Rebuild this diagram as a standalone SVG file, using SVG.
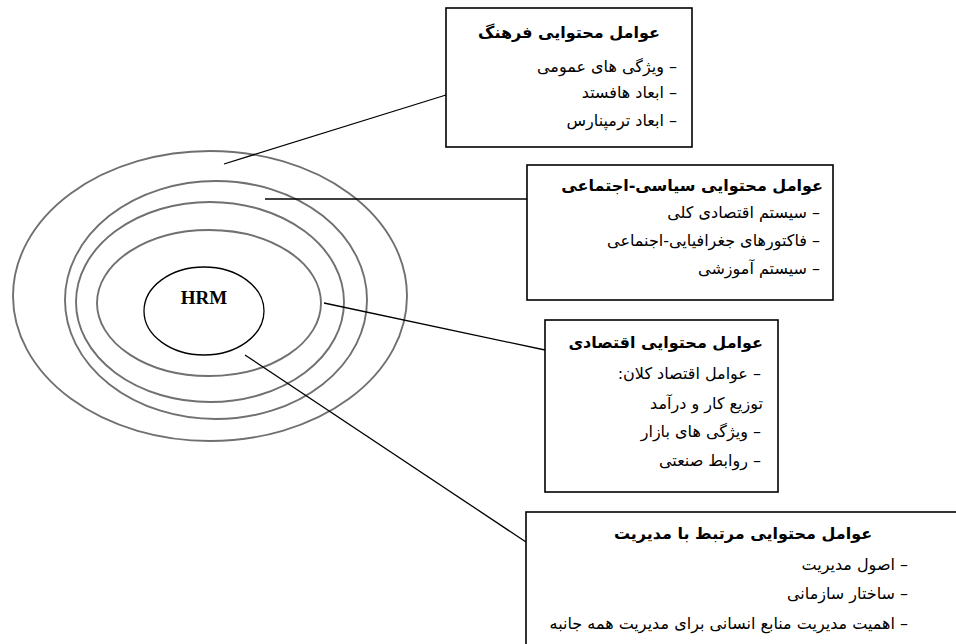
<svg xmlns="http://www.w3.org/2000/svg" width="956" height="644" viewBox="0 0 956 644">
  <style>
    .ring { fill: none; stroke: #707070; stroke-width: 1.9; }
    .core { fill: #ffffff; stroke: #000000; stroke-width: 1.3; }
    .box { fill: #ffffff; stroke: #000000; stroke-width: 1.6; }
    .link { stroke: #000000; stroke-width: 1.3; fill: none; }
    .title { font-family: "DejaVu Sans", sans-serif; font-size: 16px; font-weight: bold; fill: #000; direction: rtl; }
    .item { font-family: "DejaVu Sans", sans-serif; font-size: 16px; fill: #000; direction: rtl; }
    .hrm { font-family: "Liberation Serif", serif; font-size: 19px; font-weight: bold; fill: #000; }
  </style>
  <rect width="956" height="644" fill="#ffffff"/>

  <!-- concentric context rings around HRM -->
  <g id="rings">
    <ellipse class="ring" cx="210" cy="296" rx="197" ry="145"/>
    <ellipse class="ring" cx="216" cy="300" rx="151" ry="119"/>
    <ellipse class="ring" cx="210" cy="302" rx="134" ry="100"/>
    <ellipse class="ring" cx="209" cy="303" rx="112" ry="73"/>
  </g>

  <g id="hrm">
    <ellipse class="core" cx="204" cy="311" rx="60" ry="44"/>
    <text class="hrm" x="204" y="304" text-anchor="middle">HRM</text>
  </g>

  <!-- leader lines from rings to the boxes -->
  <g id="connectors">
    <line class="link" x1="224" y1="164" x2="446" y2="95"/>
    <line class="link" x1="265" y1="199" x2="527" y2="199"/>
    <line class="link" x1="324" y1="303" x2="545" y2="350"/>
    <line class="link" x1="245" y1="355" x2="526" y2="542"/>
  </g>

  <g id="culture">
    <rect class="box" x="446" y="8" width="246" height="139"/>
    <text class="title" x="569" y="38" text-anchor="middle">عوامل محتوایی فرهنگ</text>
    <text class="item" x="677" y="72" text-anchor="start">– ویژگی های عمومی</text>
    <text class="item" x="677" y="98" text-anchor="start">– ابعاد هافستد</text>
    <text class="item" x="677" y="126" text-anchor="start">– ابعاد  ترمپنارس</text>
  </g>

  <g id="sociopolitical">
    <rect class="box" x="527" y="165" width="306" height="135"/>
    <text class="title" x="823" y="191" text-anchor="start">عوامل محتوایی سیاسی-اجتماعی</text>
    <text class="item" x="820" y="218" text-anchor="start">– سیستم اقتصادی کلی</text>
    <text class="item" x="820" y="246" text-anchor="start">–  فاکتورهای جغرافیایی-اجنماعی</text>
    <text class="item" x="820" y="274" text-anchor="start">–  سیستم آموزشی</text>
  </g>

  <g id="economic">
    <rect class="box" x="545" y="320" width="233" height="172"/>
    <text class="title" x="763" y="348" text-anchor="start">عوامل محتوایی اقتصادی</text>
    <text class="item" x="761" y="379" text-anchor="start">– عوامل اقتصاد کلان:</text>
    <text class="item" x="763" y="409" text-anchor="start">توزیع کار و درآمد</text>
    <text class="item" x="761" y="437" text-anchor="start">– ویژگی های بازار</text>
    <text class="item" x="761" y="466" text-anchor="start">– روابط صنعتی</text>
  </g>

  <g id="management">
    <rect class="box" x="526" y="512" width="440" height="150"/>
    <text class="title" x="743" y="539" text-anchor="middle">عوامل محتوایی مرتبط با مدیریت</text>
    <text class="item" x="908" y="570" text-anchor="start">– اصول مدیریت</text>
    <text class="item" x="908" y="599" text-anchor="start">– ساختار سازمانی</text>
    <text class="item" x="908" y="629" text-anchor="start">– اهمیت مدیریت منابع انسانی برای مدیریت همه جانبه</text>
  </g>
</svg>
